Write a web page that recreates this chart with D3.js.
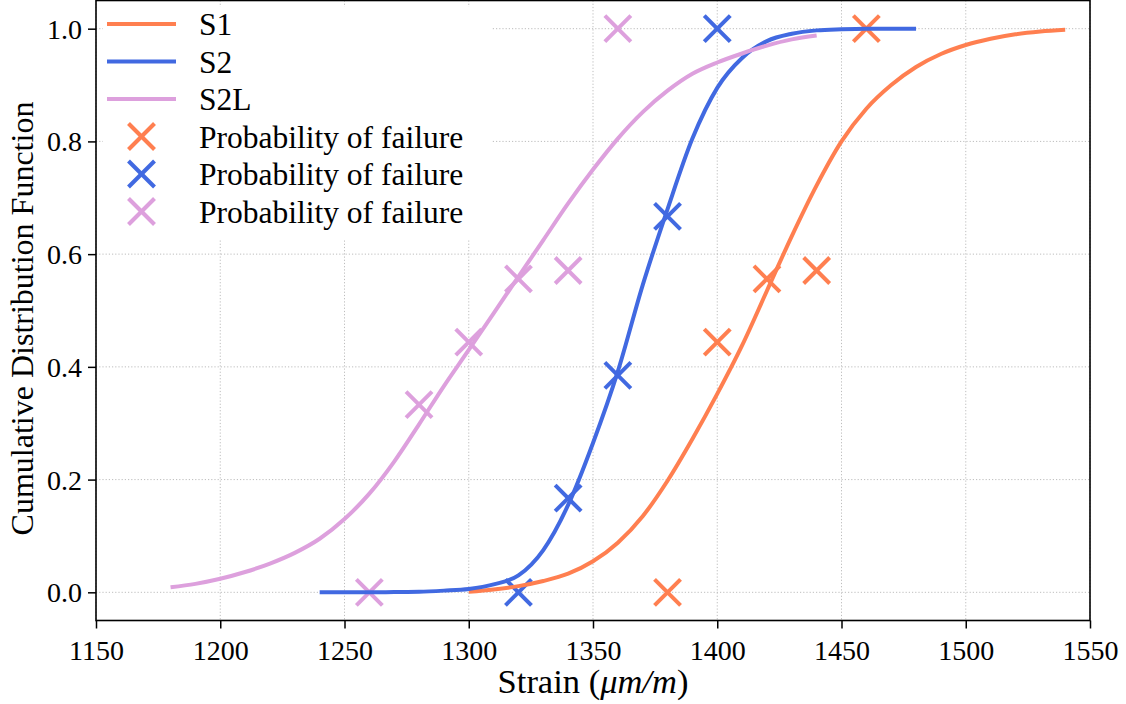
<!DOCTYPE html>
<html>
<head>
<meta charset="utf-8">
<script src="https://cdn.jsdelivr.net/npm/d3@7"></script>
</head>
<body style="margin:0">
<svg id="fig" width="1126" height="704" font-family="Liberation Serif"></svg>
<script>
// ---------- data ----------
const xTickValues = [1150, 1200, 1250, 1300, 1350, 1400, 1450, 1500, 1550];
const yTickValues = [0.0, 0.2, 0.4, 0.6, 0.8, 1.0];

const seriesNames = ["S1", "S2", "S2L"];
const markerLabel = "Probability of failure";

// observed probability of failure (markers)
const s1Strain = [1380, 1400, 1420, 1440, 1460];
const s1Prob   = [0.0, 0.444, 0.556, 0.571, 1.0];
const s2Strain = [1320, 1340, 1360, 1380, 1400];
const s2Prob   = [0.0, 0.167, 0.385, 0.667, 1.0];
const s2lStrain = [1260, 1280, 1300, 1320, 1340, 1360];
const s2lProb   = [0.0, 0.333, 0.444, 0.556, 0.571, 1.0];

// fitted CDF curves
const s1CurveX = [1300,1310,1320,1330,1340,1350,1360,1370,1380,1390,1400,1410,1420,1430,1440,1450,1460,1470,1480,1490,1500,1510,1520,1530,1540];
const s1CurveY = [0.001,0.005,0.011,0.020,0.033,0.055,0.088,0.135,0.198,0.272,0.352,0.438,0.535,0.632,0.722,0.800,0.858,0.900,0.932,0.955,0.971,0.982,0.990,0.995,0.998];
const s2CurveX = [1240,1250,1260,1270,1280,1290,1300,1310,1320,1330,1340,1350,1360,1370,1380,1390,1400,1410,1420,1430,1440,1450,1460,1470,1480];
const s2CurveY = [0.0,0.0,0.0,0.0005,0.001,0.003,0.006,0.014,0.030,0.075,0.155,0.265,0.392,0.545,0.680,0.805,0.895,0.948,0.978,0.991,0.997,0.999,1.0,1.0,1.0];
const s2lCurveX = [1180,1190,1200,1210,1220,1230,1240,1250,1260,1270,1280,1290,1300,1310,1320,1330,1340,1350,1360,1370,1380,1390,1400,1410,1420,1430,1440];
const s2lCurveY = [0.009,0.015,0.024,0.036,0.051,0.070,0.095,0.130,0.175,0.232,0.298,0.366,0.430,0.495,0.560,0.625,0.690,0.750,0.805,0.852,0.890,0.920,0.940,0.956,0.970,0.981,0.988];

const colors = ["#FF7F50", "#4169E1", "#DDA0DD"];

const FONT = "Liberation Serif";
function serif(sel, size) {
  return sel.attr("font-family", FONT).attr("font-size", size)
    .style("font-family", FONT, "important").style("font-size", size + "px", "important");
}

// ---------- layout ----------
const svg = d3.select("#fig");
const L = 96, R = 1090, T = 0.5, B = 620.5;

const x = d3.scaleLinear().domain([1150, 1550]).range([L, R]);
const y = d3.scaleLinear().domain([-0.05, 1.05]).range([B, T]);

// grid
const grid = svg.append("g");
grid.selectAll("line.gx").data(xTickValues).enter().append("line")
  .attr("x1", d => x(d)).attr("x2", d => x(d)).attr("y1", T).attr("y2", B)
  .attr("stroke", "#b5b5b5").attr("stroke-width", 0.9).attr("stroke-dasharray", "1.2,2");
grid.selectAll("line.gy").data(yTickValues).enter().append("line")
  .attr("x1", L).attr("x2", R).attr("y1", d => y(d)).attr("y2", d => y(d))
  .attr("stroke", "#b5b5b5").attr("stroke-width", 0.9).attr("stroke-dasharray", "1.2,2");

const plot = svg.append("g");
const markerSets = [
  [s1Strain, s1Prob], [s2Strain, s2Prob], [s2lStrain, s2lProb]
];
const curveSets = [
  [s1CurveX, s1CurveY], [s2CurveX, s2CurveY], [s2lCurveX, s2lCurveY]
];

const ms = 13;
function drawX(g, cx, cy, color) {
  g.append("line").attr("x1", cx - ms).attr("y1", cy - ms).attr("x2", cx + ms).attr("y2", cy + ms)
    .attr("stroke", color).attr("stroke-width", 4);
  g.append("line").attr("x1", cx - ms).attr("y1", cy + ms).attr("x2", cx + ms).attr("y2", cy - ms)
    .attr("stroke", color).attr("stroke-width", 4);
}

// markers first
markerSets.forEach((ms_, i) => {
  const g = plot.append("g");
  ms_[0].forEach((s, j) => drawX(g, x(s), y(ms_[1][j]), colors[i]));
});

// curves
const lineGen = d3.line().x(d => x(d[0])).y(d => y(d[1])).curve(d3.curveMonotoneX);
curveSets.forEach((cs, i) => {
  const pts = cs[0].map((v, j) => [v, cs[1][j]]);
  plot.append("path").attr("d", lineGen(pts)).attr("fill", "none")
    .attr("stroke", colors[i]).attr("stroke-width", 4);
});

// axes
const xAxis = d3.axisBottom(x).tickValues(xTickValues).tickFormat(d3.format("d")).tickSize(8).tickPadding(5);
const yAxis = d3.axisLeft(y).tickValues(yTickValues).tickFormat(d3.format(".1f")).tickSize(8).tickPadding(6);

const gx = svg.append("g").attr("transform", `translate(0,${B})`).call(xAxis);
const gy = svg.append("g").attr("transform", `translate(${L},0)`).call(yAxis);
[gx, gy].forEach(g => {
  g.attr("font-family", FONT).attr("font-size", 28);
  g.select(".domain").remove();
  g.selectAll(".tick line").attr("stroke", "#000").attr("stroke-width", 1.5);
  serif(g.selectAll(".tick text"), 28).attr("fill", "#000");
});
gx.selectAll(".tick text").attr("dy", "0.95em");
gy.selectAll(".tick text").attr("dy", "0.34em");

// frame
svg.append("rect").attr("x", L).attr("y", T).attr("width", R - L).attr("height", B - T)
  .attr("fill", "none").attr("stroke", "#000").attr("stroke-width", 1.6);

// legend
const lg = svg.append("g");
lg.append("rect").attr("x", 103).attr("y", 7).attr("width", 388).attr("height", 233).attr("fill", "#fff");
const rowY0 = 24, rowStep = 37.5;
seriesNames.forEach((n, i) => {
  const cy = rowY0 + i * rowStep;
  lg.append("line").attr("x1", 107).attr("x2", 176).attr("y1", cy).attr("y2", cy)
    .attr("stroke", colors[i]).attr("stroke-width", 4);
  serif(lg.append("text").attr("x", 199).attr("y", cy + 11), 31.5).text(n);
});
colors.forEach((c, i) => {
  const cy = rowY0 + (i + 3) * rowStep;
  drawX(lg, 141.5, cy, c);
  serif(lg.append("text").attr("x", 199).attr("y", cy + 11), 31.5).text(markerLabel);
});

// axis labels
const xl = serif(svg.append("text").attr("x", (L + R) / 2).attr("y", 693).attr("text-anchor", "middle"), 34.5);
xl.append("tspan").text("Strain (");
xl.append("tspan").attr("font-style", "italic").text("μm/m");
xl.append("tspan").text(")");

serif(svg.append("text").attr("transform", `translate(33,${(T + B) / 2 + 8}) rotate(-90)`)
  .attr("text-anchor", "middle"), 32)
  .text("Cumulative Distribution Function");
</script>
</body>
</html>
